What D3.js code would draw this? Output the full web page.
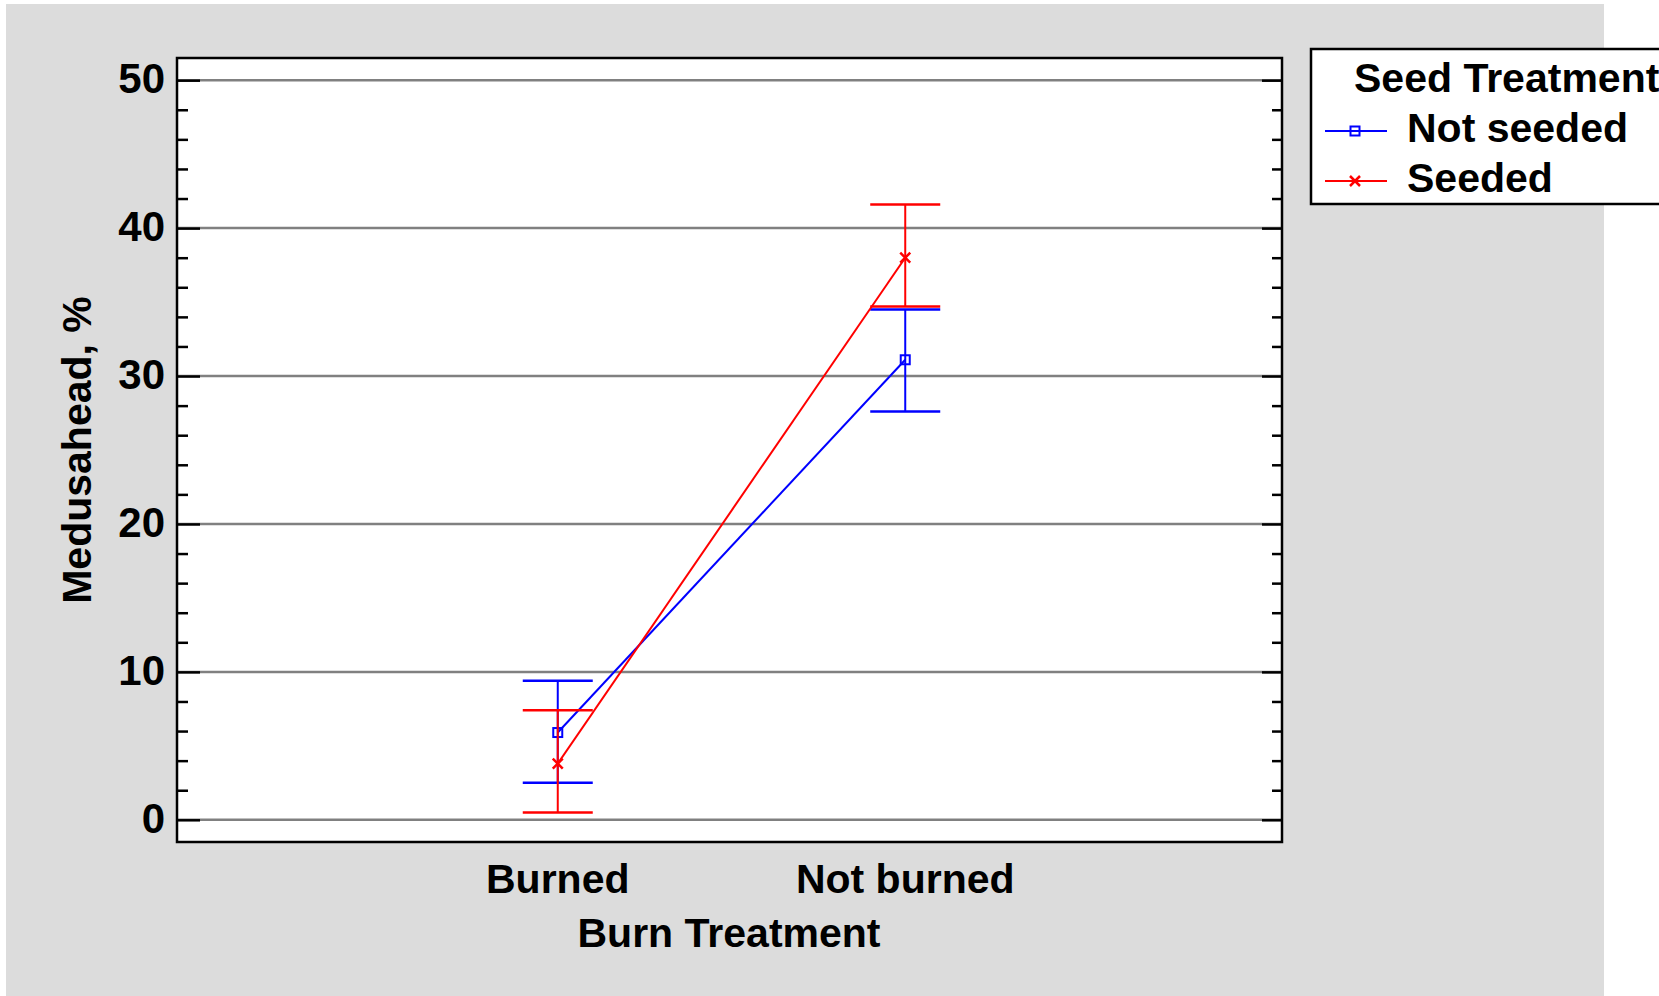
<!DOCTYPE html>
<html>
<head>
<meta charset="utf-8">
<script src="https://cdn.jsdelivr.net/npm/d3@7"></script>
<style>
html,body{margin:0;padding:0;background:#ffffff;}
svg{display:block;}
text{font-family:"Liberation Sans",Arial,Helvetica,sans-serif;font-weight:bold;fill:#000;}
</style>
</head>
<body>
<svg id="chart" width="1659" height="996"></svg>
<script>
// ---- data ----
const categories = ["Burned", "Not burned"];
const seriesNames = ["Not seeded", "Seeded"];
const notSeededMean  = [5.9, 31.1];
const notSeededLower = [2.5, 27.6];
const notSeededUpper = [9.4, 34.5];
const seededMean  = [3.8, 38.0];
const seededLower = [0.5, 34.7];
const seededUpper = [7.4, 41.6];
const yMajorTicks = [0, 10, 20, 30, 40, 50];
const yMinorTicks = d3.range(0, 51, 2);
const xTitle = "Burn Treatment";
const yTitle = "Medusahead, %";
const legendTitle = "Seed Treatment";

const series = [
  {name: seriesNames[0], color: "#0000ff", marker: "square", mean: notSeededMean, lo: notSeededLower, hi: notSeededUpper},
  {name: seriesNames[1], color: "#ff0000", marker: "x", mean: seededMean, lo: seededLower, hi: seededUpper}
];

// ---- layout ----
const svg = d3.select("#chart");
const L = 177, R = 1282, T = 58, B = 842;

svg.append("rect").attr("x", 6).attr("y", 4).attr("width", 1598).attr("height", 992).attr("fill", "#dcdcdc");
svg.append("rect").attr("x", L).attr("y", T).attr("width", R - L).attr("height", B - T).attr("fill", "#ffffff");

const x = d3.scalePoint().domain(categories).range([L + 2, R + 2]).padding(1.09);
const y = d3.scaleLinear().domain([-1.5, 51.5]).range([B, T]);

// gridlines
svg.append("g").selectAll("line").data(yMajorTicks).join("line")
  .attr("x1", L).attr("x2", R)
  .attr("y1", d => y(d)).attr("y2", d => y(d))
  .attr("stroke", "#808080").attr("stroke-width", 2.5);

// left axis ticks (inward)
const leftAxis = d3.axisRight(y).tickValues(yMinorTicks).tickSize(11).tickFormat("");
const gl = svg.append("g").attr("transform", `translate(${L},0)`).call(leftAxis);
gl.select(".domain").remove();
gl.selectAll(".tick line").attr("stroke", "#000").attr("stroke-width", 2.5)
  .attr("x2", d => (d % 10 === 0 ? 23 : 11));

const rightAxis = d3.axisLeft(y).tickValues(yMinorTicks).tickSize(10).tickFormat("");
const gr = svg.append("g").attr("transform", `translate(${R},0)`).call(rightAxis);
gr.select(".domain").remove();
gr.selectAll(".tick line").attr("stroke", "#000").attr("stroke-width", 2.5)
  .attr("x2", d => (d % 10 === 0 ? -20 : -10));

// y tick labels
svg.append("g").selectAll("text").data(yMajorTicks).join("text")
  .attr("x", 165).attr("y", d => y(d) + 13)
  .attr("text-anchor", "end").attr("font-size", 42)
  .text(d => d);

// x tick labels
svg.append("g").selectAll("text").data(categories).join("text")
  .attr("x", d => x(d)).attr("y", 893)
  .attr("text-anchor", "middle").attr("font-size", 41)
  .text(d => d);

// axis titles
svg.append("text").attr("x", 729).attr("y", 947)
  .attr("text-anchor", "middle").attr("font-size", 41).text(xTitle);
svg.append("text").attr("transform", "translate(91,450) rotate(-90)")
  .attr("text-anchor", "middle").attr("font-size", 41).text(yTitle);

// series
const line = d3.line().x(d => x(d.cat)).y(d => y(d.v));
function drawMarker(g, type, cx, cy, color) {
  if (type === "square") {
    g.append("rect").attr("x", cx - 4.5).attr("y", cy - 4.5).attr("width", 9).attr("height", 9)
      .attr("fill", "none").attr("stroke", color).attr("stroke-width", 2);
  } else {
    g.append("path").attr("d", `M${cx-5},${cy-5}L${cx+5},${cy+5}M${cx-5},${cy+5}L${cx+5},${cy-5}`)
      .attr("stroke", color).attr("stroke-width", 2.5).attr("fill", "none");
  }
}
series.forEach(s => {
  const g = svg.append("g");
  categories.forEach((c, i) => {
    const cx = x(c);
    g.append("line").attr("x1", cx).attr("x2", cx).attr("y1", y(s.lo[i])).attr("y2", y(s.hi[i]))
      .attr("stroke", s.color).attr("stroke-width", 2);
    [s.lo[i], s.hi[i]].forEach(v => {
      g.append("line").attr("x1", cx - 35).attr("x2", cx + 35).attr("y1", y(v)).attr("y2", y(v))
        .attr("stroke", s.color).attr("stroke-width", 2.5);
    });
  });
  g.append("path").datum(categories.map((c, i) => ({cat: c, v: s.mean[i]})))
    .attr("d", line).attr("fill", "none").attr("stroke", s.color).attr("stroke-width", 2);
  categories.forEach((c, i) => drawMarker(g, s.marker, x(c), y(s.mean[i]), s.color));
});

// frame
svg.append("rect").attr("x", L).attr("y", T).attr("width", R - L).attr("height", B - T)
  .attr("fill", "none").attr("stroke", "#000").attr("stroke-width", 2.5);

// legend
const lg = svg.append("g");
lg.append("rect").attr("x", 1311).attr("y", 49).attr("width", 400).attr("height", 155)
  .attr("fill", "#fff").attr("stroke", "#000").attr("stroke-width", 2.5);
lg.append("text").attr("x", 1354).attr("y", 92).attr("font-size", 41).text(legendTitle);
series.forEach((s, i) => {
  const ly = 131 + i * 50;
  lg.append("line").attr("x1", 1325).attr("x2", 1387).attr("y1", ly).attr("y2", ly)
    .attr("stroke", s.color).attr("stroke-width", 2);
  drawMarker(lg, s.marker, 1355, ly, s.color);
  lg.append("text").attr("x", 1407).attr("y", ly + 11).attr("font-size", 41).text(s.name);
});
</script>
</body>
</html>
